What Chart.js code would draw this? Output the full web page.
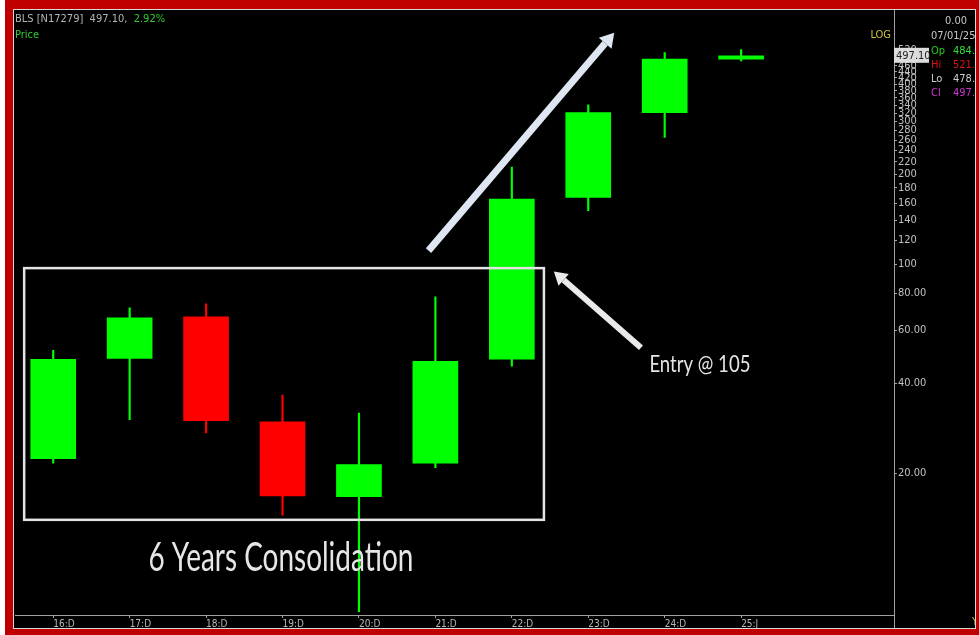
<!DOCTYPE html>
<html>
<head>
<meta charset="utf-8">
<script src="https://cdn.jsdelivr.net/npm/chart.js@4.4.1/dist/chart.umd.min.js"></script>
<style>
  html, body { margin: 0; padding: 0; background: #fff; }
  .frame { position: absolute; left: 5px; top: 0; width: 974px; height: 635px; background: #c00000; }
  .screen { position: absolute; left: 13px; top: 9px; width: 961px; height: 618px; background: #000; border: 1px solid #d8d8d8; }
  .box { position: relative; width: 961px; height: 618px; }
</style>
</head>
<body>
<div class="frame"></div>
<div class="screen"><div class="box"><canvas id="myChart"></canvas></div></div>
<script>
// yearly candles
const cats   = ['16:D', '17:D', '18:D', '19:D', '20:D', '21:D', '22:D', '23:D', '24:D', '25:J'];
const opens  = [22.4, 48.4, 66.7, 29.7, 16.7, 21.6, 48.1, 167, 321, 484.8];
const highs  = [51.5, 71.5, 73.7, 36.5, 31.8, 77.8, 211, 341, 510, 521.8];
const lows   = [21.6, 30.2, 27.3, 14.5, 6.9, 20.9, 45.6, 151, 265, 478.0];
const closes = [48.1, 66.2, 30.0, 16.8, 21.4, 47.3, 165, 321, 484.8, 497.1];

// price axis labels
const yTicks = [20, 40, 60, 80, 100, 120, 140, 160, 180, 200, 220, 240, 260, 280, 300,
                320, 340, 360, 380, 400, 420, 440, 460, 480, 500, 520];

const lastPrice = 497.10;

const NARROW = "'Liberation Sans Narrow', 'DejaVu Sans Condensed', 'Liberation Sans', sans-serif";
const UP = '#00ff00', DOWN = '#ff0000';

const colors = opens.map((o, i) => closes[i] >= o ? UP : DOWN);

function squeezeText(ctx, text, x, y, size, width, color) {
  ctx.save();
  ctx.font = size + 'px Lato, sans-serif';
  const w = ctx.measureText(text).width;
  ctx.translate(x, y);
  ctx.scale(width / w, 1);
  ctx.fillStyle = color;
  ctx.textAlign = 'left';
  ctx.textBaseline = 'alphabetic';
  ctx.fillText(text, 0, 0);
  ctx.restore();
}

function arrow(ctx, x1, y1, x2, y2, lw, head, color) {
  const a = Math.atan2(y2 - y1, x2 - x1);
  const bx = x2 - head * Math.cos(a), by = y2 - head * Math.sin(a);
  ctx.save();
  ctx.strokeStyle = color;
  ctx.lineWidth = lw;
  ctx.beginPath();
  ctx.moveTo(x1, y1);
  ctx.lineTo(bx, by);
  ctx.stroke();
  ctx.fillStyle = color;
  ctx.beginPath();
  ctx.moveTo(x2, y2);
  ctx.lineTo(bx + head * 0.6 * Math.sin(a), by - head * 0.6 * Math.cos(a));
  ctx.lineTo(bx - head * 0.6 * Math.sin(a), by + head * 0.6 * Math.cos(a));
  ctx.closePath();
  ctx.fill();
  ctx.restore();
}

function txt(ctx, s, x, y, color, align) {
  ctx.fillStyle = color;
  ctx.textAlign = align || 'left';
  ctx.fillText(s, x, y);
}

const overlay = {
  id: 'overlay',
  afterDatasetsDraw(chart) {
    const ctx = chart.ctx, xs = chart.scales.x, ys = chart.scales.y;
    const X = v => xs.getPixelForValue(v), Y = v => ys.getPixelForValue(v);
    ctx.save();
    // consolidation box
    ctx.strokeStyle = '#e4e4e4';
    ctx.lineWidth = 2.5;
    ctx.strokeRect(X(-0.38), Y(97), X(6.42) - X(-0.38), Y(13.98) - Y(97));
    // arrows
    arrow(ctx, X(4.91), Y(111), X(7.34), Y(594), 7, 14, '#dde6f1');
    arrow(ctx, X(7.69), Y(52.6), X(6.55), Y(94.6), 6, 13, '#eaeaea');
    // texts
    squeezeText(ctx, '6 Years Consolidation', X(1.245), Y(9.4), 40, 265, '#e6e6e6');
    squeezeText(ctx, 'Entry @ 105', X(7.8), Y(43.5), 23, 101, '#e6e6e6');
    ctx.restore();
  },
  afterDraw(chart) {
    const ctx = chart.ctx, ca = chart.chartArea, ys = chart.scales.y;
    ctx.save();
    ctx.textBaseline = 'middle';
    // full height divider
    ctx.strokeStyle = '#a0a0a0';
    ctx.lineWidth = 1;
    ctx.beginPath();
    ctx.moveTo(ca.right + 0.5, 0);
    ctx.lineTo(ca.right + 0.5, chart.height);
    ctx.stroke();

    ctx.font = '11px ' + NARROW;
    // header top-left
    txt(ctx, 'BLS [N17279]', 1, 9, '#b4b4b4');
    let x = 1 + ctx.measureText('BLS [N17279]  ').width;
    txt(ctx, '497.10,', x, 9, '#b4b4b4');
    x += ctx.measureText('497.10,  ').width;
    txt(ctx, '2.92%', x, 9, '#33cc33');
    txt(ctx, 'Price', 1, 25, '#33cc33');
    txt(ctx, 'LOG', ca.right - 3, 25, '#cfc33c', 'right');

    // last price tag
    const py = ys.getPixelForValue(lastPrice);
    ctx.fillStyle = '#dcdcdc';
    ctx.fillRect(ca.right, py - 8, 35, 15);
    txt(ctx, lastPrice.toFixed(2), ca.right + 2, py, '#222');

    // info panel
    const lx = 917, vx = 939;
    txt(ctx, '0.00', 931, 11, '#c8c8c8');
    txt(ctx, '07/01/25 T', lx, 26, '#c8c8c8');
    txt(ctx, 'Op', lx, 41, '#22cc22');  txt(ctx, opens[9].toFixed(1), vx, 41, '#33dd33');
    txt(ctx, 'Hi', lx, 55, '#dd1111');  txt(ctx, highs[9].toFixed(1), vx, 55, '#dd1111');
    txt(ctx, 'Lo', lx, 69, '#cccccc');  txt(ctx, lows[9].toFixed(1), vx, 69, '#cccccc');
    txt(ctx, 'Cl', lx, 83, '#cc33cc');  txt(ctx, closes[9].toFixed(1), vx, 83, '#cc33cc');
    txt(ctx, 'Y', 958, 612, '#cfc33c');
    ctx.restore();
  }
};

Chart.defaults.font.family = NARROW;

var ctx = document.getElementById('myChart');
var chart = new Chart(ctx, {
  type: 'bar',
  data: {
    datasets: [{
      label: 'body',
      data: cats.map((c, i) => ({ x: i, y: [opens[i], closes[i]] })),
      backgroundColor: colors,
      borderWidth: 0,
      barThickness: 45,
      grouped: false
    },
    {
      label: 'wick',
      data: cats.map((c, i) => ({ x: i, y: [lows[i], highs[i]] })),
      backgroundColor: colors,
      borderWidth: 0,
      barThickness: 1.5,
      grouped: false
    }]
  },
  options: {
    responsive: true,
    maintainAspectRatio: false,
    animation: false,
    layout: { padding: { top: 2, left: 1, right: 0, bottom: 0 } },
    plugins: { legend: { display: false }, tooltip: { enabled: false } },
    scales: {
      x: {
        type: 'linear',
        min: -0.5,
        max: 11,
        offset: false,
        afterBuildTicks: s => { s.ticks = cats.map((c, i) => ({ value: i })); },
        afterFit: s => { s.height = 13; },
        grid: { offset: false, drawOnChartArea: false, drawTicks: true, tickLength: 3, color: '#a0a0a0' },
        border: { color: '#a0a0a0' },
        ticks: {
          autoSkip: false, maxRotation: 0, align: 'start', padding: 0,
          color: '#b8b8b8', font: { size: 10 },
          callback: v => cats[v]
        }
      },
      y: {
        type: 'logarithmic',
        position: 'right',
        min: 6.72,
        max: 667,
        bounds: 'data',
        afterBuildTicks: s => { s.ticks = yTicks.map(v => ({ value: v })); },
        afterFit: s => { s.width = 81; },
        grid: { drawOnChartArea: false, drawTicks: true, tickLength: 3, color: '#a0a0a0' },
        border: { color: '#a0a0a0' },
        ticks: {
          autoSkip: false, padding: 1, color: '#c0c0c0', font: { size: 11 },
          callback: v => v < 100 ? v.toFixed(2) : String(v)
        }
      }
    }
  },
  plugins: [overlay]
});
</script>
</body>
</html>
